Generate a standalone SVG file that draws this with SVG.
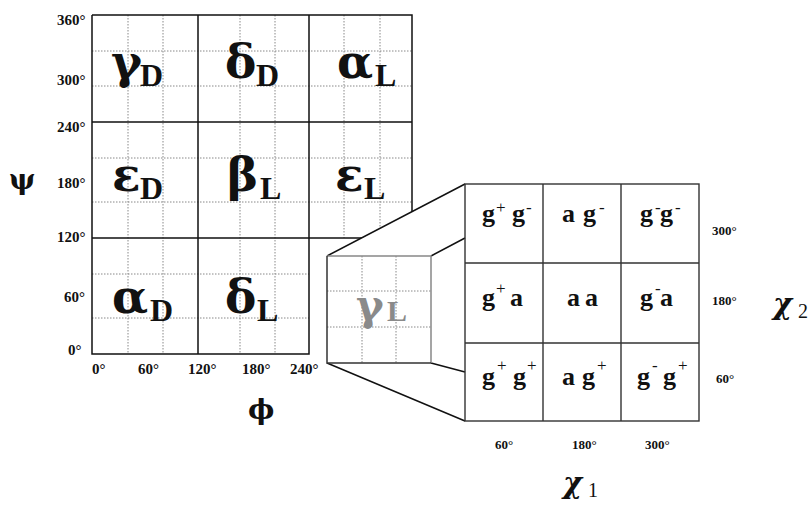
<svg xmlns="http://www.w3.org/2000/svg" width="809" height="506" viewBox="0 0 809 506">
<style>
.g{fill:none;stroke:#111;stroke-width:1.5}
.d{fill:none;stroke:#888;stroke-width:1;stroke-dasharray:1.5 1.5}
.r{fill:none;stroke:#333;stroke-width:1.4}
.ax{font-family:"Liberation Serif",serif;font-weight:bold;font-size:15px;fill:#111}
.ax2{font-family:"Liberation Serif",serif;font-weight:bold;font-size:13px;fill:#111}
.gk{font-family:"DejaVu Serif",serif;font-weight:bold;font-size:47px;fill:#111}
.sb{font-family:"Liberation Serif",serif;font-weight:bold;font-size:32px;fill:#111}
.c{font-family:"Liberation Serif",serif;font-weight:bold;font-size:26px;fill:#111}
.s{font-family:"Liberation Serif",serif;font-size:17px;fill:#111}
.big{font-family:"DejaVu Serif",serif;font-size:28px;fill:#111}
.chi{font-family:"DejaVu Serif",serif;font-style:italic;font-weight:bold;font-size:29px;fill:#111}
.sub{font-family:"Liberation Serif",serif;font-size:20px;fill:#111}
</style>
<rect width="809" height="506" fill="#fff"/>
<g id="ramachandran-grid">
<g class="d">
<path d="M92 51H412M92 86H412M92 158H412M92 202H412M92 274H309M92 318H309"/>
<path d="M128 15V354M163 15V354M240 15V354M275 15V354M344 15V238M380 15V238"/>
</g>
<g class="g">
<path d="M92 15H412V238M92 15V354H309V15M198 15V354M92 122H412M92 238H412"/>
</g>
<text class="gk" x="111" y="78">γ</text><text class="sb" x="140" y="86">D</text>
<text class="gk" x="225" y="78">δ</text><text class="sb" x="256" y="86">D</text>
<text class="gk" x="337" y="78">α</text><text class="sb" x="375" y="86">L</text>
<text class="gk" x="112" y="191">ε</text><text class="sb" x="140" y="199">D</text>
<text class="gk" x="227" y="191">β</text><text class="sb" x="260" y="199">L</text>
<text class="gk" x="335" y="191">ε</text><text class="sb" x="364" y="199">L</text>
<text class="gk" x="112" y="313">α</text><text class="sb" x="150" y="321">D</text>
<text class="gk" x="225" y="313">δ</text><text class="sb" x="257" y="321">L</text>
</g>
<g id="psi-axis" class="ax">
<text x="57" y="25">360°</text>
<text x="57" y="85">300°</text>
<text x="57" y="132">240°</text>
<text x="57" y="188">180°</text>
<text x="57" y="242">120°</text>
<text x="64" y="302">60°</text>
<text x="68" y="355">0°</text>
</g>
<g id="phi-axis" class="ax">
<text x="92" y="374">0°</text>
<text x="138" y="374">60°</text>
<text x="188" y="374">120°</text>
<text x="242" y="374">180°</text>
<text x="290" y="374">240°</text>
<text x="372" y="382">300°</text>
<text x="415" y="382">360°</text>
</g>
<g id="connectors">
<polygon points="327,256 465,184 465,421 327,363" fill="#fff" stroke="none"/>
<path class="g" d="M327 256L465 184M431 256L465 238M431 363L465 372M327 363L465 421" stroke-width="1.3"/>
</g>
<g id="gammaL-face">
<rect x="327" y="256" width="104" height="107" fill="#fff" stroke="none"/>
<path class="d" d="M327 291H431M327 327H431M362 256V363M396 256V363"/>
<path d="M327 256H431V363" fill="none" stroke="#888" stroke-width="1.5"/>
<path d="M327 256V363H431" fill="none" stroke="#333" stroke-width="1.5"/>
<text x="356" y="320" font-family="'DejaVu Serif',serif" font-weight="bold" font-size="42" fill="#8a8a8a">γ</text>
<text x="387" y="321" font-family="'Liberation Serif',serif" font-weight="bold" font-size="30" fill="#8a8a8a">L</text>
</g>
<g id="rotamer-grid">
<rect x="465" y="184" width="234" height="237" fill="#fff" class="r"/>
<path class="r" d="M543 184V421M621 184V421M465 263H699M465 343H699"/>
<g class="c">
<text x="482" y="222">g</text><text x="512" y="222">g</text>
<text x="562" y="222">a</text><text x="583" y="222">g</text>
<text x="640" y="222">g</text><text x="660" y="222">g</text>
<text x="482" y="306">g</text><text x="510" y="306">a</text>
<text x="567" y="306">a</text><text x="585" y="306">a</text>
<text x="640" y="306">g</text><text x="660" y="306">a</text>
<text x="482" y="385">g</text><text x="513" y="385">g</text>
<text x="562" y="385">a</text><text x="582" y="385">g</text>
<text x="637" y="385">g</text><text x="663" y="385">g</text>
</g>
<g class="s">
<text x="496" y="213">+</text><text x="526" y="213">-</text>
<text x="599" y="213">-</text>
<text x="655" y="213">-</text><text x="675" y="213">-</text>
<text x="496" y="294">+</text>
<text x="655" y="294">-</text>
<text x="497" y="371">+</text><text x="527" y="371">+</text>
<text x="597" y="371">+</text>
<text x="652" y="371">-</text><text x="678" y="371">+</text>
</g>
</g>
<g id="chi-axes" class="ax2">
<text x="712" y="235">300°</text>
<text x="712" y="305">180°</text>
<text x="716" y="383">60°</text>
<text x="495" y="449">60°</text>
<text x="572" y="449">180°</text>
<text x="645" y="449">300°</text>
</g>
<g id="axis-titles">
<text class="big" x="9" y="189" font-weight="bold">ψ</text>
<text class="big" x="248" y="419" font-weight="bold">ϕ</text>
<text class="chi" x="563" y="493">χ</text><text class="sub" x="588" y="497">1</text>
<text class="chi" x="773" y="314">χ</text><text class="sub" x="798" y="318">2</text>
</g>
</svg>
